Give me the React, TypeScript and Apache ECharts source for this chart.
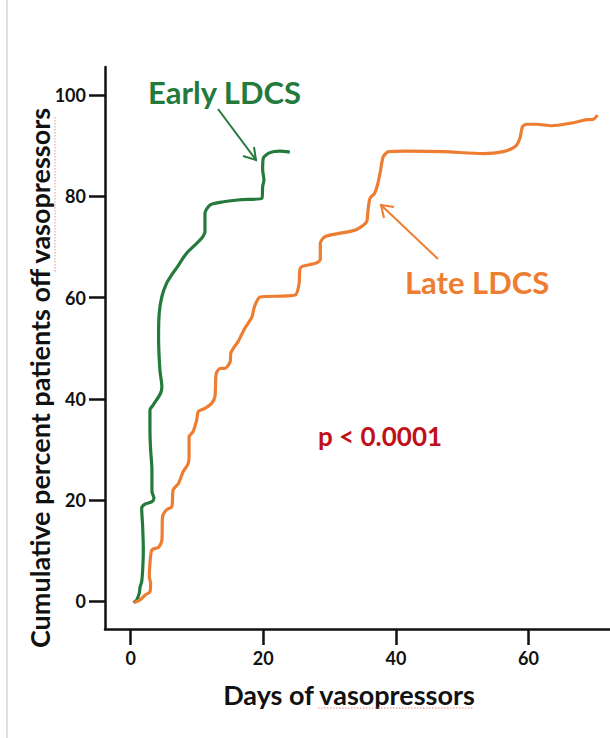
import React, { useEffect, useRef } from "react";
import * as echarts from "echarts";

const earlyDays = [0.4, 0.9, 1.3, 1.4, 1.65, 1.8, 1.9, 1.8, 1.65, 2.15, 3.2, 3.5, 3.2, 3.2, 3.0, 2.9, 2.9, 3.4, 4.5, 4.7, 4.4, 4.2, 4.3, 4.7, 5.4, 6.2, 6.9, 8.4, 9.95, 10.7, 11.2, 11.2, 12, 14, 16.5, 19.8, 19.9, 20.1, 19.9, 20, 21, 22.5, 24];
const earlyPct = [-0.2, 0.3, 1.7, 2.8, 3.9, 6.2, 10.2, 14.8, 18.4, 19.2, 19.7, 20.4, 21.7, 26, 30, 33.9, 37.8, 38.8, 41.1, 42.4, 45.7, 52.3, 56.9, 60.2, 62.8, 64.5, 65.8, 68.7, 70.7, 71.7, 73, 76.6, 78.3, 78.9, 79.3, 79.6, 81.9, 83.2, 85.2, 87.5, 88.6, 88.9, 88.7];

const lateDays = [0.5, 1.4, 2.2, 2.9, 3.0, 2.8, 2.9, 3.2, 4.2, 4.7, 4.8, 5.4, 6.2, 6.4, 7.2, 7.9, 8.6, 8.8, 8.8, 9.4, 9.95, 10.2, 11.2, 12.2, 12.7, 12.9, 13.5, 14.2, 15, 15.1, 15.5, 16.2, 16.7, 17.2, 17.7, 18.3, 18.6, 19, 19.5, 24.8, 25.4, 25.5, 25.8, 28, 28.6, 28.6, 29.3, 31.6, 33.6, 34.8, 35.6, 35.8, 36.1, 36.8, 37.3, 37.7, 38.1, 38.9, 41.6, 47.2, 53.2, 56.2, 58, 58.7, 59.1, 59.7, 61.2, 63.5, 66.3, 68.8, 69.8, 70.4];
const latePct = [-0.2, 0.3, 1.3, 1.9, 3.6, 4.9, 7.5, 10.2, 10.7, 12.1, 16.7, 18.1, 18.7, 22, 23.3, 25.6, 27, 28.3, 32.5, 33.5, 35.8, 37.5, 38.1, 39.1, 40.4, 45, 46, 46, 47.3, 49, 50, 51.3, 52.6, 53.9, 54.9, 56.2, 57.9, 59.2, 60.1, 60.5, 62.8, 65.4, 66.1, 66.8, 67.5, 70.7, 72, 72.7, 73.2, 74, 75, 77.3, 79.6, 80.6, 82.6, 85.2, 87.8, 88.8, 88.9, 88.8, 88.4, 88.8, 89.8, 91.4, 93.7, 94.2, 94.2, 93.9, 94.4, 95.1, 95.2, 96];

const xTicks = [0, 20, 40, 60];
const yTicks = [0, 20, 40, 60, 80, 100];

const GREEN = "#237a3b";
const ORANGE = "#ED7D31";
const FONT = "Lato, 'Open Sans', sans-serif";

export default function App() {
  const ref = useRef<HTMLDivElement>(null);
  useEffect(() => {
    const chart = echarts.init(ref.current!, null, { renderer: "svg" });
    const early = earlyDays.map((d, i) => [d, earlyPct[i]]);
    const late = lateDays.map((d, i) => [d, latePct[i]]);
    const axisCommon = {
      axisLine: { show: true, onZero: false, lineStyle: { color: "#111", width: 2.5 } },
      axisTick: { show: true, length: 16, lineStyle: { color: "#111", width: 2.5 } },
      splitLine: { show: false },
      axisLabel: {
        color: "#111",
        fontWeight: "bold" as const,
        fontSize: 18,
        fontFamily: FONT,
      },
    };
    chart.setOption({
      animation: false,
      backgroundColor: "#fff",
      grid: { left: 105, right: 0, top: 67, bottom: 109, containLabel: false },
      xAxis: {
        type: "value",
        min: -3.88,
        max: 72.3,
        ...axisCommon,
        axisTick: { ...axisCommon.axisTick, customValues: xTicks },
        axisLabel: { ...axisCommon.axisLabel, customValues: xTicks, margin: 20 },
      },
      yAxis: {
        type: "value",
        min: -5.43,
        max: 105.5,
        ...axisCommon,
        axisTick: { ...axisCommon.axisTick, customValues: yTicks },
        axisLabel: { ...axisCommon.axisLabel, customValues: yTicks, margin: 19 },
      },
      series: [
        {
          name: "Early LDCS",
          type: "line",
          data: early,
          showSymbol: false,
          smooth: 0.25,
          lineStyle: { color: GREEN, width: 3.2 },
        },
        {
          name: "Late LDCS",
          type: "line",
          data: late,
          showSymbol: false,
          smooth: 0.25,
          lineStyle: { color: ORANGE, width: 3.2 },
        },
      ],
      graphic: [
        { type: "line", shape: { x1: 7, y1: 0, x2: 7, y2: 738 }, style: { stroke: "#d6d6d6", lineWidth: 1.5 } },
        {
          type: "text",
          x: 39,
          y: 378,
          rotation: Math.PI / 2,
          style: {
            text: "Cumulative percent patients off vasopressors",
            fontFamily: FONT,
            fontWeight: "bold",
            fontSize: 27,
            fill: "#111",
            align: "center",
            verticalAlign: "middle",
          },
        },
        { type: "line", shape: { x1: 55, y1: 117, x2: 55, y2: 272 }, style: { stroke: "#f08a8a", lineWidth: 1, lineDash: [1.5, 1.5] } },
        {
          type: "text",
          x: 349,
          y: 694,
          style: {
            text: "Days of vasopressors",
            fontFamily: FONT,
            fontWeight: "bold",
            fontSize: 27,
            fill: "#111",
            align: "center",
            verticalAlign: "middle",
          },
        },
        { type: "line", shape: { x1: 318, y1: 708, x2: 474, y2: 708 }, style: { stroke: "#f08a8a", lineWidth: 1, lineDash: [1.5, 1.5] } },
        {
          type: "text",
          x: 148,
          y: 92,
          style: {
            text: "Early LDCS",
            fontFamily: FONT,
            fontWeight: "bold",
            fontSize: 31,
            fill: GREEN,
            align: "left",
            verticalAlign: "middle",
          },
        },
        { type: "line", shape: { x1: 218, y1: 109, x2: 256, y2: 160 }, style: { stroke: GREEN, lineWidth: 2 } },
        { type: "polyline", shape: { points: [[243, 156], [256, 160], [254, 147]] }, style: { stroke: GREEN, lineWidth: 2, fill: null } },
        {
          type: "text",
          x: 405,
          y: 282,
          style: {
            text: "Late LDCS",
            fontFamily: FONT,
            fontWeight: "bold",
            fontSize: 31,
            fill: ORANGE,
            align: "left",
            verticalAlign: "middle",
          },
        },
        { type: "line", shape: { x1: 438, y1: 259, x2: 381, y2: 205 }, style: { stroke: ORANGE, lineWidth: 2 } },
        { type: "polyline", shape: { points: [[384, 218], [381, 205], [394, 207]] }, style: { stroke: ORANGE, lineWidth: 2, fill: null } },
        {
          type: "text",
          x: 318,
          y: 436,
          style: {
            text: "p < 0.0001",
            fontFamily: FONT,
            fontWeight: "bold",
            fontSize: 26,
            fill: "#c0101a",
            align: "left",
            verticalAlign: "middle",
          },
        },
      ],
    });
    return () => chart.dispose();
  }, []);
  return (
    <div
      ref={ref}
      style={{ position: "fixed", left: 0, top: 0, width: 610, height: 738, background: "#fff" }}
    />
  );
}
